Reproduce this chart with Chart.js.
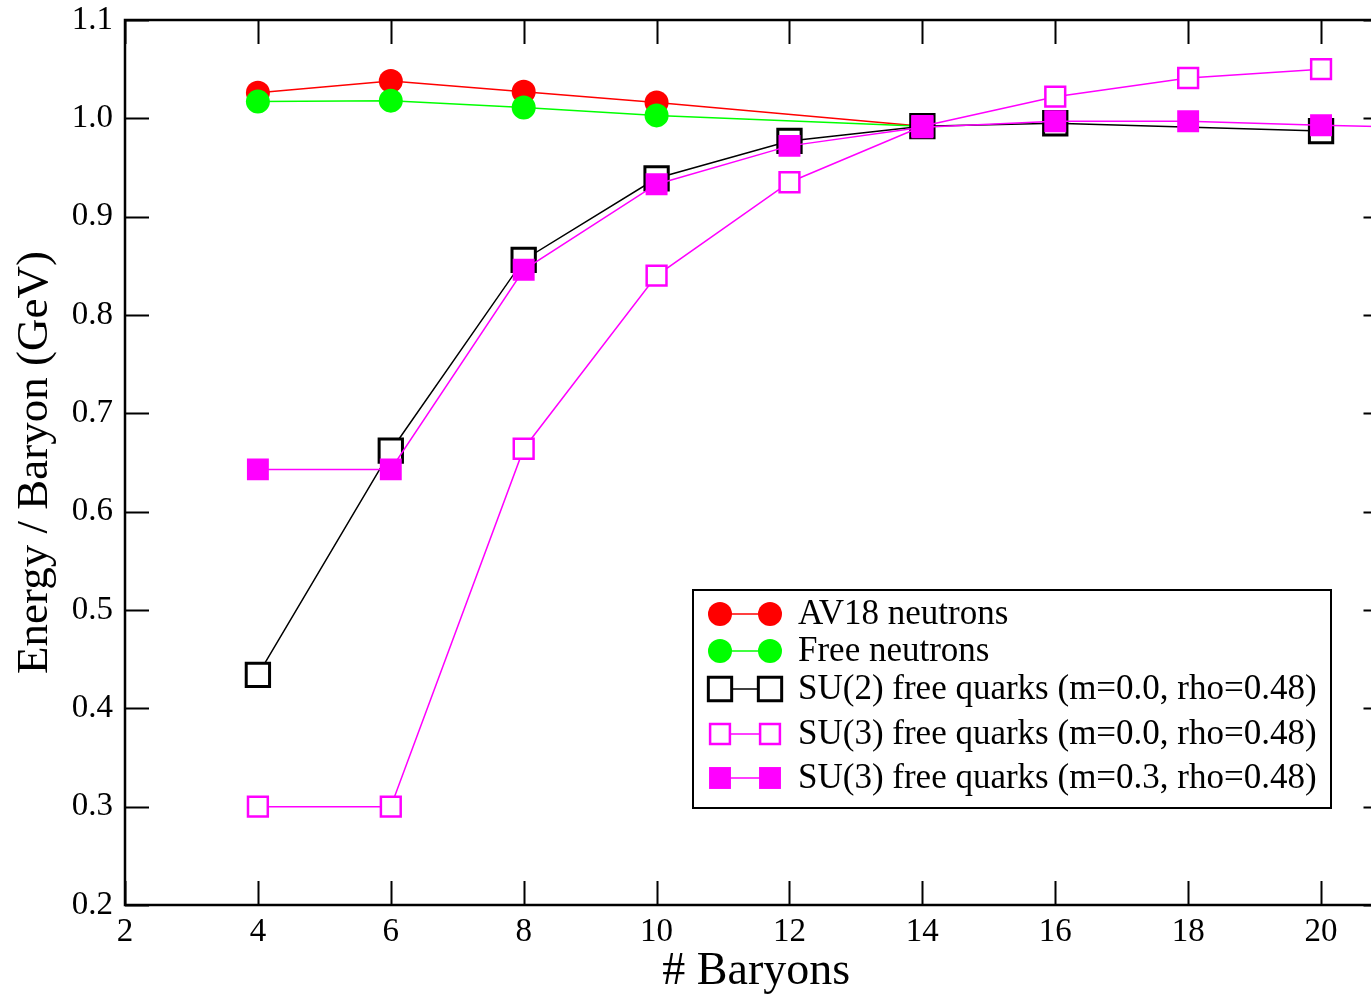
<!DOCTYPE html>
<html>
<head>
<meta charset="utf-8">
<title>Energy per baryon</title>
<script src="https://cdn.jsdelivr.net/npm/chart.js@4.4.0/dist/chart.umd.min.js"></script>
<style>
  html, body { margin: 0; padding: 0; background: #fff; overflow: hidden; }
  #wrap { width: 1407px; height: 997px; }
</style>
</head>
<body>
<div id="wrap"><canvas id="chart" width="1407" height="997"></canvas></div>
<script>
// number of baryons on the x axis
const xTicks = [2, 4, 6, 8, 10, 12, 14, 16, 18, 20];
const yTicks = [0.2, 0.3, 0.4, 0.5, 0.6, 0.7, 0.8, 0.9, 1.0, 1.1];

const neutronX = [4, 6, 8, 10, 14];
const av18 = [1.026, 1.038, 1.027, 1.016, 0.992];
const freeNeutrons = [1.017, 1.018, 1.011, 1.003, 0.992];

const su2X = [4, 6, 8, 10, 12, 14, 16, 20];
const su2m0 = [0.434, 0.662, 0.856, 0.939, 0.977, 0.992, 0.995, 0.987];

const su3X = [4, 6, 8, 10, 12, 14, 16, 18, 20];
const su3m0 = [0.300, 0.300, 0.664, 0.840, 0.935, 0.992, 1.022, 1.041, 1.050];

const su3mX = [4, 6, 8, 10, 12, 14, 16, 18, 20, 22];
const su3m3 = [0.643, 0.643, 0.846, 0.933, 0.972, 0.991, 0.997, 0.997, 0.993, 0.990];

const FONT = '"Liberation Serif", "Times New Roman", serif';

const pts = (xs, ys) => xs.map((x, i) => ({ x: x, y: ys[i] }));

const datasets = [
    {
        label: 'AV18 neutrons',
        data: pts(neutronX, av18),
        borderColor: '#ff0000', backgroundColor: '#ff0000',
        borderWidth: 1.5, pointStyle: 'circle', pointRadius: 12,
        pointBorderWidth: 0, order: 5
    },
    {
        label: 'Free neutrons',
        data: pts(neutronX, freeNeutrons),
        borderColor: '#00ff00', backgroundColor: '#00ff00',
        borderWidth: 1.5, pointStyle: 'circle', pointRadius: 12,
        pointBorderWidth: 0, order: 4
    },
    {
        label: 'SU(2) free quarks (m=0.0, rho=0.48)',
        data: pts(su2X, su2m0),
        borderColor: '#000000', backgroundColor: '#ffffff',
        borderWidth: 1.5, pointStyle: 'rect', pointRadius: 16.5,
        pointBorderWidth: 3, order: 3
    },
    {
        label: 'SU(3) free quarks (m=0.0, rho=0.48)',
        data: pts(su3X, su3m0),
        borderColor: '#ff00ff', backgroundColor: '#ffffff',
        borderWidth: 1.5, pointStyle: 'rect', pointRadius: 14,
        pointBorderWidth: 2.5, order: 2
    },
    {
        label: 'SU(3) free quarks (m=0.3, rho=0.48)',
        data: pts(su3mX, su3m3),
        borderColor: '#ff00ff', backgroundColor: '#ff00ff',
        borderWidth: 1.5, pointStyle: 'rect', pointRadius: 15.5,
        pointBorderWidth: 0, order: 1
    }
];

// frame with inward ticks on all four sides
const frameTicks = {
    id: 'frameTicks',
    afterDatasetsDraw(chart) {
        const { ctx, chartArea: a, scales: { x, y } } = chart;
        ctx.save();
        ctx.strokeStyle = '#000';
        ctx.lineWidth = 2;
        ctx.beginPath();
        xTicks.forEach(v => {
            const px = Math.round(x.getPixelForValue(v)) + 0.5;
            ctx.moveTo(px, a.bottom); ctx.lineTo(px, a.bottom - 24);
            ctx.moveTo(px, a.top); ctx.lineTo(px, a.top + 24);
        });
        yTicks.forEach(v => {
            const py = Math.round(y.getPixelForValue(v)) + 0.5;
            ctx.moveTo(a.left, py); ctx.lineTo(a.left + 24, py);
            ctx.moveTo(a.right, py); ctx.lineTo(a.right - 24, py);
        });
        ctx.stroke();
        ctx.lineWidth = 2.5;
        ctx.strokeRect(a.left, a.top, a.right - a.left, a.bottom - a.top);
        ctx.restore();
    }
};

// boxed legend inside the plot
const boxLegend = {
    id: 'boxLegend',
    afterDraw(chart) {
        const ctx = chart.ctx;
        const rows = [614, 651, 689, 734, 778];
        ctx.save();
        ctx.fillStyle = '#fff';
        ctx.fillRect(693, 590, 638, 218);
        ctx.strokeStyle = '#000';
        ctx.lineWidth = 2;
        ctx.strokeRect(693, 590, 638, 218);
        chart.data.datasets.forEach((ds, i) => {
            const yy = rows[i];
            ctx.strokeStyle = ds.borderColor;
            ctx.lineWidth = ds.borderWidth;
            ctx.beginPath();
            ctx.moveTo(720, yy); ctx.lineTo(770, yy);
            ctx.stroke();
            [720, 770].forEach(xx => {
                ctx.fillStyle = ds.backgroundColor;
                ctx.strokeStyle = ds.borderColor;
                ctx.lineWidth = ds.pointBorderWidth;
                Chart.helpers.drawPoint(ctx, {
                    pointStyle: ds.pointStyle,
                    radius: ds.pointRadius,
                    rotation: 0,
                    borderWidth: ds.pointBorderWidth
                }, xx, yy);
            });
            ctx.fillStyle = '#000';
            ctx.font = '35px ' + FONT;
            ctx.textBaseline = 'middle';
            ctx.textAlign = 'left';
            ctx.fillText(ds.label, 798, yy + 1);
        });
        ctx.restore();
    }
};

new Chart(document.getElementById('chart'), {
    type: 'line',
    data: { datasets: datasets },
    options: {
        responsive: false,
        animation: false,
        devicePixelRatio: 1,
        layout: { padding: { top: 20, right: 13, left: 0, bottom: 0 } },
        plugins: { legend: { display: false }, tooltip: { enabled: false } },
        scales: {
            x: {
                type: 'linear', min: 2, max: 21,
                afterBuildTicks: s => { s.ticks = xTicks.map(v => ({ value: v })); },
                afterFit: s => { s.height = 92; s.paddingLeft = 0; s.paddingRight = 0; },
                grid: { display: false, drawTicks: false },
                border: { display: false },
                ticks: { color: '#000', font: { family: FONT, size: 33 }, padding: 8, maxRotation: 0 },
                title: { display: true, text: '# Baryons', color: '#000', font: { family: FONT, size: 46, lineHeight: 1.0 }, padding: { top: 0, bottom: 2 } }
            },
            y: {
                type: 'linear', min: 0.2, max: 1.1,
                afterBuildTicks: s => { s.ticks = yTicks.map(v => ({ value: v })); },
                afterFit: s => { s.width = 125; s.paddingTop = 0; s.paddingBottom = 0; },
                grid: { display: false, drawTicks: false },
                border: { display: false },
                ticks: { color: '#000', font: { family: FONT, size: 33 }, padding: 12, callback: v => v.toFixed(1) },
                title: { display: true, text: 'Energy / Baryon (GeV)', color: '#000', font: { family: FONT, size: 45 }, padding: { top: 8, bottom: 0 } }
            }
        }
    },
    plugins: [frameTicks, boxLegend]
});
</script>
</body>
</html>
